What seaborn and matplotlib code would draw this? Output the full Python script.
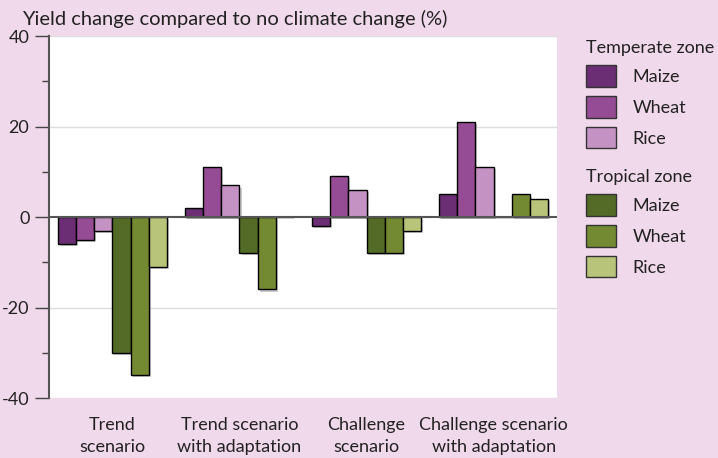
import matplotlib
matplotlib.use("Agg")
import matplotlib.pyplot as plt
import matplotlib.patheffects as pe
from matplotlib.patches import Patch
from matplotlib.ticker import MultipleLocator
import pandas as pd
import seaborn as sns

scenarios = ["Trend\nscenario", "Trend scenario\nwith adaptation",
             "Challenge\nscenario", "Challenge scenario\nwith adaptation"]
crops = ["Maize", "Wheat", "Rice"]
temperate_maize = [-6, 2, -2, 5]
temperate_wheat = [-5, 11, 9, 21]
temperate_rice = [-3, 7, 6, 11]
tropical_maize = [-30, -8, -8, 0]
tropical_wheat = [-35, -16, -8, 5]
tropical_rice = [-11, 0, -3, 4]

series = {
    "Temperate Maize": temperate_maize,
    "Temperate Wheat": temperate_wheat,
    "Temperate Rice": temperate_rice,
    "Tropical Maize": tropical_maize,
    "Tropical Wheat": tropical_wheat,
    "Tropical Rice": tropical_rice,
}
colors = ["#6b2d73", "#954c94", "#c493c4", "#546a27", "#738a32", "#b8c47a"]

rows = []
for name, vals in series.items():
    for sc, v in zip(scenarios, vals):
        rows.append({"scenario": sc, "series": name, "value": v})
df = pd.DataFrame(rows)

sns.set_theme(style="white")
plt.rcParams["font.family"] = ["Lato", "DejaVu Sans"]

bg = "#f0d9ea"
fig = plt.figure(figsize=(7.18, 4.58), dpi=100, facecolor=bg)
ax = fig.add_axes([0.068, 0.131, 0.708, 0.790])
ax.set_facecolor("white")

sns.barplot(data=df, x="scenario", y="value", hue="series",
            palette=colors, order=scenarios, hue_order=list(series.keys()),
            width=0.86, edgecolor="black", linewidth=1.0, saturation=1,
            legend=False, ax=ax)

shadow = [pe.SimplePatchShadow(offset=(1.5, -1.5), shadow_rgbFace="#999999", alpha=0.5), pe.Normal()]
for p in ax.patches:
    p.set_path_effects(shadow)

ax.set_ylim(-40, 40)
ax.set_xlim(-0.5, 3.5)
ax.yaxis.set_minor_locator(MultipleLocator(10))
ax.set_yticks([40, 20, 0, -20, -40])
ax.set_yticklabels(["40", "20", "0", "-20", "-40"])
ax.tick_params(axis="y", which="major", direction="out", length=10, width=1,
               color="#444444", labelsize=13, pad=4, left=True)
ax.tick_params(axis="y", which="minor", direction="out", length=5, width=1,
               color="#444444", left=True)
ax.tick_params(axis="x", length=0, labelsize=13, pad=14)
for lbl in ax.get_xticklabels():
    lbl.set_linespacing(1.4)
for lbl in ax.get_xticklabels() + ax.get_yticklabels():
    lbl.set_color("#222222")

for y in (20, -20, 40, -40):
    ax.axhline(y, color="#dddddd", linewidth=1, zorder=0)
ax.axhline(0, color="#555555", linewidth=1.5, zorder=3)

for s in ("top", "right", "bottom"):
    ax.spines[s].set_visible(False)
ax.spines["left"].set_color("#555555")
ax.spines["left"].set_linewidth(1.5)
ax.set_xlabel("")
ax.set_ylabel("")

fig.text(0.031, 1 - 19 / 458, "Yield change compared to no climate change (%)",
         fontsize=14.5, color="#222222", va="center", ha="left")

def zone_legend(title, cols, anchor_y):
    handles = [Patch(facecolor=c, edgecolor="#333333", linewidth=1) for c in cols]
    leg = fig.legend(handles, crops, title=title, loc="upper left",
                     bbox_to_anchor=(586 / 718, anchor_y), frameon=False,
                     fontsize=13, title_fontsize=13, alignment="left",
                     handlelength=1.66, handleheight=1.45, labelspacing=0.52,
                     handletextpad=0.9, borderpad=0, borderaxespad=0)
    leg.get_title().set_color("#222222")
    for t in leg.get_texts():
        t.set_color("#222222")
    return leg

zone_legend("Temperate zone", colors[:3], 1 - 40 / 458)
zone_legend("Tropical zone", colors[3:], 1 - 169 / 458)

fig.savefig("out.png", dpi=100, facecolor=bg)
